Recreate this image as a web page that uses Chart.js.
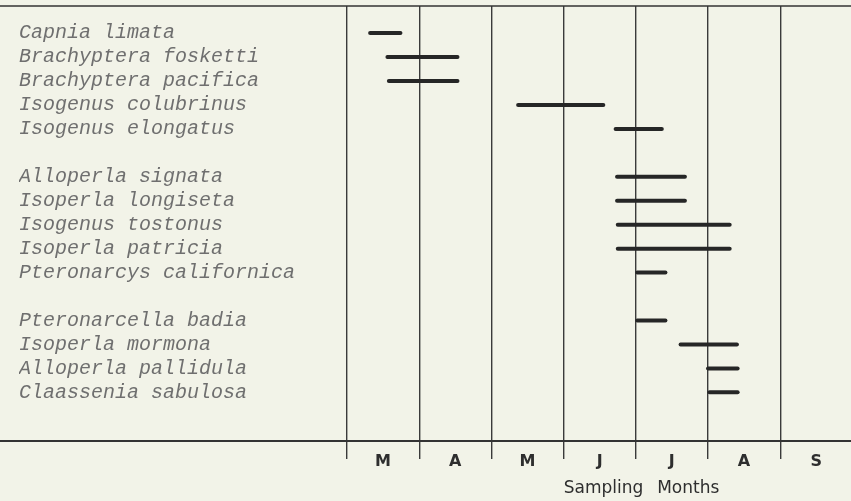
<!DOCTYPE html>
<html>
<head>
<meta charset="utf-8">
<script src="https://cdn.jsdelivr.net/npm/chart.js@4/dist/chart.umd.min.js"></script>
<style>
  html, body { margin: 0; padding: 0; background: #f2f3e8; }
  #wrap { width: 851px; height: 501px; position: relative; }
</style>
</head>
<body>
<div id="wrap"><canvas id="emergenceChart"></canvas></div>
<script>
// Species, in the order they appear (top to bottom)
const species = [
    'Capnia limata',
    'Brachyptera fosketti',
    'Brachyptera pacifica',
    'Isogenus colubrinus',
    'Isogenus elongatus',
    'Alloperla signata',
    'Isoperla longiseta',
    'Isogenus tostonus',
    'Isoperla patricia',
    'Pteronarcys californica',
    'Pteronarcella badia',
    'Isoperla mormona',
    'Alloperla pallidula',
    'Claassenia sabulosa'
];
// block each species belongs to (blank row between blocks)
const speciesGroup = [0, 0, 0, 0, 0, 1, 1, 1, 1, 1, 2, 2, 2, 2];

// emergence period, in months from the start of March (0 = 1 Mar, 1 = 1 Apr, ...)
const startMonth = [0.32, 0.56, 0.58, 2.37, 3.72, 3.74, 3.74, 3.75, 3.75, 4.02, 4.02, 4.62, 5.0, 5.02];
const endMonth   = [0.74, 1.53, 1.53, 3.55, 4.36, 4.68, 4.68, 5.30, 5.30, 4.41, 4.41, 5.40, 5.41, 5.41];

// month tick labels (Mar..Sep)
const monthLabels = ['M', 'A', 'M', 'J', 'J', 'A', 'S'];

const rowOf = species.map((s, i) => i + speciesGroup[i]);
const nameByRow = {};
rowOf.forEach((r, i) => { nameByRow[r] = species[i]; });

const datasets = species.map((name, i) => ({
    label: name,
    data: [
        { x: startMonth[i], y: rowOf[i] },
        { x: endMonth[i], y: rowOf[i] }
    ],
    borderColor: '#262626',
    borderWidth: 4,
    borderCapStyle: 'round',
    pointRadius: 0,
    pointHoverRadius: 0,
    fill: false
}));

// horizontal rules across the full width, at the top and bottom of the plot
const frameLines = {
    id: 'frameLines',
    afterDraw(chart) {
        const { ctx, chartArea } = chart;
        ctx.save();
        ctx.strokeStyle = '#333333';
        ctx.lineWidth = 1.6;
        ctx.beginPath();
        ctx.moveTo(0, chartArea.top);
        ctx.lineTo(chart.width, chartArea.top);
        ctx.stroke();
        ctx.lineWidth = 2;
        ctx.beginPath();
        ctx.moveTo(0, chartArea.bottom);
        ctx.lineTo(chart.width, chartArea.bottom);
        ctx.stroke();
        ctx.restore();
    }
};

const ctx = document.getElementById('emergenceChart').getContext('2d');
new Chart(ctx, {
    type: 'line',
    data: { datasets },
    plugins: [frameLines],
    options: {
        responsive: true,
        maintainAspectRatio: false,
        animation: false,
        layout: { padding: { top: 6, left: 19, right: 0, bottom: 0 } },
        plugins: {
            legend: { display: false },
            tooltip: { enabled: false }
        },
        scales: {
            x: {
                type: 'linear',
                min: 0,
                max: 6.98,
                afterBuildTicks(scale) {
                    scale.ticks = [0, 1, 2, 3, 4, 5, 6].map(v => ({ value: v }));
                },
                afterFit(scale) {
                    scale.height = 60;
                    scale.paddingLeft = 0;
                    scale.paddingRight = 0;
                },
                grid: {
                    color: '#3a3a3a',
                    lineWidth: 1.4,
                    tickLength: 18,
                    drawTicks: true
                },
                border: { display: false },
                ticks: {
                    autoSkip: false,
                    maxRotation: 0,
                    labelOffset: 36,
                    padding: -7,
                    color: '#2e2e2e',
                    font: { family: 'DejaVu Sans', size: 16, weight: 'bold' },
                    callback: v => monthLabels[v] || ''
                },
                title: {
                    display: true,
                    text: '\u2003\u2003\u2003\u2003\u2003Sampling\u2002 Months',
                    color: '#2e2e2e',
                    font: { family: 'DejaVu Sans', size: 17 },
                    padding: { top: 0, bottom: 2 }
                }
            },
            y: {
                type: 'linear',
                reverse: true,
                min: -1.13,
                max: 17.03,
                afterBuildTicks(scale) {
                    scale.ticks = rowOf.map(r => ({ value: r }));
                },
                afterFit(scale) {
                    scale.width = 328;
                    scale.paddingTop = 0;
                    scale.paddingBottom = 0;
                },
                grid: { display: false, drawTicks: false },
                border: { display: false },
                ticks: {
                    autoSkip: false,
                    crossAlign: 'far',
                    padding: 0,
                    color: '#6f6f6f',
                    font: { family: 'Liberation Mono', size: 20, style: 'italic' },
                    callback: v => nameByRow[v] || ''
                }
            }
        }
    }
});
</script>
</body>
</html>
